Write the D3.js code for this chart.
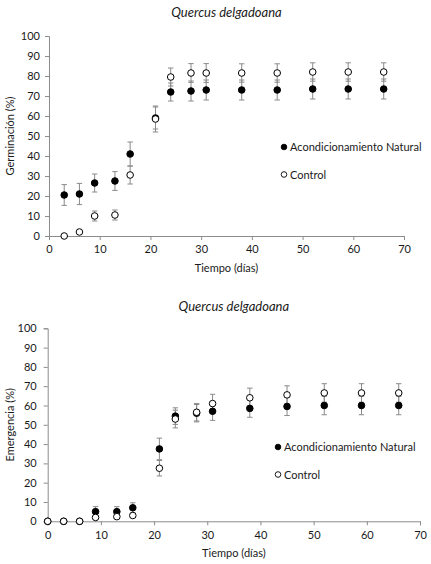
<!doctype html>
<html lang="es">
  <head>
    <meta charset="utf-8">
    <title>Quercus delgadoana</title>
    <style>
      body { margin: 0; background: #fff; }
      text { font-family: Lato, "Open Sans", sans-serif; fill: #1a1a1a; }
    </style>
  </head>
  <body>
    <div id="chart"></div>

    <script src="https://cdn.jsdelivr.net/npm/d3@7"></script>
    <script>

    // germination panel (top)
    var daysGerm = [3, 6, 9, 13, 16, 21, 24, 28, 31, 38, 45, 52, 59, 66];
    var germNatural = [20.5, 21, 26.5, 27.5, 41, 59, 72, 72.5, 73, 73, 73, 73.5, 73.5, 73.5];
    var germNaturalErr = [5.2, 5.3, 4.5, 4.7, 6, 5.5, 4.5, 5, 5, 5, 5, 5, 5, 5];
    var germControl = [0, 2, 10, 10.5, 30.5, 58.5, 79.5, 81.5, 81.5, 81.5, 81.5, 82, 82, 82];
    var germControlErr = [0, 0, 2.5, 2.5, 4.5, 6.5, 4.5, 4.7, 4.7, 4.6, 4.6, 4.6, 4.6, 4.6];

    // emergence panel (bottom)
    var daysEmer = [0, 3, 6, 9, 13, 16, 21, 24, 28, 31, 38, 45, 52, 59, 66];
    var emerNatural = [0, 0, 0, 5, 5, 7, 37.5, 54.5, 56, 57, 58.5, 59.5, 60, 60, 60];
    var emerNaturalErr = [0, 0, 0, 2.6, 2.6, 2.6, 5.6, 4.3, 4.5, 4.7, 4.6, 4.7, 4.8, 4.8, 4.8];
    var emerControl = [0, 0, 0, 2, 2.4, 3, 27.5, 53, 56.5, 61, 64, 65.5, 66.5, 66.5, 66.5];
    var emerControlErr = [0, 0, 0, 0, 0, 0, 4, 4.6, 4.5, 4.8, 5, 4.7, 4.8, 4.8, 4.8];

    var xTicks = [0, 10, 20, 30, 40, 50, 60, 70];
    var yTicks = [0, 10, 20, 30, 40, 50, 60, 70, 80, 90, 100];
    var seriesNames = ["Acondicionamiento Natural", "Control"];
    var title = "Quercus delgadoana";

    var svg = d3.select("#chart")
        .append("svg")
        .attr("width", 431)
        .attr("height", 564);

    function panel(opt) {
      var x = d3.scaleLinear().domain([0, 70]).range([opt.x0, opt.x1]);
      var y = d3.scaleLinear().domain([0, 100]).range([opt.y0, opt.y1]);
      var g = svg.append("g");

      //axes
      var xAxis = g.append("g")
          .attr("transform", "translate(0," + opt.y0 + ")")
          .call(d3.axisBottom(x).tickValues(xTicks).tickSize(4).tickPadding(opt.xPad));
      var yAxis = g.append("g")
          .attr("transform", "translate(" + opt.x0 + ",0)")
          .call(d3.axisLeft(y).tickValues(yTicks).tickSize(4).tickPadding(opt.yPad));

      [xAxis, yAxis].forEach(function(a){
        a.selectAll("path, line").attr("stroke", "#8c8c8c");
        a.selectAll("text").attr("font-size", 11).attr("fill", "#1a1a1a")
          .attr("font-family", "Lato, 'Open Sans', sans-serif");
      });

      g.append("text")
        .attr("x", (opt.x0 + opt.x1) / 2)
        .attr("y", opt.titleY)
        .attr("text-anchor", "middle")
        .attr("font-size", 13)
        .attr("font-style", "italic")
        .text(title);

      g.append("text")
        .attr("x", (opt.x0 + opt.x1) / 2)
        .attr("y", opt.y0 + 36)
        .attr("text-anchor", "middle")
        .attr("font-size", 11)
        .text("Tiempo (días)");

      g.append("text")
        .attr("transform", "translate(" + 14 + "," + (opt.y0 + opt.y1) / 2 + ") rotate(-90)")
        .attr("text-anchor", "middle")
        .attr("font-size", 11)
        .text(opt.yLabel);

      var series = [
        {vals: opt.natural, err: opt.naturalErr, fill: "#000"},
        {vals: opt.control, err: opt.controlErr, fill: "#fff"}
      ];

      // error bars first, markers on top
      series.forEach(function(s){
        var pts = opt.days.map(function(d, i){ return {d: d, v: s.vals[i], e: s.err[i]}; })
          .filter(function(p){ return p.e > 0; });
        var eb = g.append("g").attr("stroke", "#8a8a8a").attr("stroke-width", 1);
        eb.selectAll("line.v").data(pts).join("line")
          .attr("x1", function(p){ return x(p.d); })
          .attr("x2", function(p){ return x(p.d); })
          .attr("y1", function(p){ return y(p.v + p.e); })
          .attr("y2", function(p){ return y(p.v - p.e); });
        eb.selectAll("line.t").data(pts).join("line")
          .attr("x1", function(p){ return x(p.d) - 2.7; })
          .attr("x2", function(p){ return x(p.d) + 2.7; })
          .attr("y1", function(p){ return y(p.v + p.e); })
          .attr("y2", function(p){ return y(p.v + p.e); });
        eb.selectAll("line.b").data(pts).join("line")
          .attr("x1", function(p){ return x(p.d) - 2.7; })
          .attr("x2", function(p){ return x(p.d) + 2.7; })
          .attr("y1", function(p){ return y(p.v - p.e); })
          .attr("y2", function(p){ return y(p.v - p.e); });
      });

      series.forEach(function(s){
        g.append("g").selectAll("circle")
          .data(opt.days.map(function(d, i){ return {d: d, v: s.vals[i]}; }))
          .join("circle")
          .attr("cx", function(p){ return x(p.d); })
          .attr("cy", function(p){ return y(p.v); })
          .attr("r", 3.3)
          .attr("fill", s.fill)
          .attr("stroke", "#000")
          .attr("stroke-width", 1);
      });

      //legend
      seriesNames.forEach(function(name, i){
        var ly = opt.legY + i * 27.5;
        g.append("circle")
          .attr("cx", opt.legX)
          .attr("cy", ly)
          .attr("r", 2.8)
          .attr("fill", series[i].fill)
          .attr("stroke", "#000")
          .attr("stroke-width", 0.9);
        g.append("text")
          .attr("x", opt.legX + 6)
          .attr("y", ly + 4)
          .attr("font-size", 11)
          .text(name);
      });
    }

    panel({
      x0: 49, x1: 404, y0: 236, y1: 36, xPad: 5, yPad: 5,
      titleY: 17, yLabel: "Germinación (%)",
      days: daysGerm, natural: germNatural, naturalErr: germNaturalErr,
      control: germControl, controlErr: germControlErr,
      legX: 284, legY: 147
    });

    panel({
      x0: 47.7, x1: 420, y0: 521.3, y1: 328.3, xPad: 6, yPad: 7,
      titleY: 311, yLabel: "Emergencia (%)",
      days: daysEmer, natural: emerNatural, naturalErr: emerNaturalErr,
      control: emerControl, controlErr: emerControlErr,
      legX: 278, legY: 447
    });

    </script>
  </body>
</html>
